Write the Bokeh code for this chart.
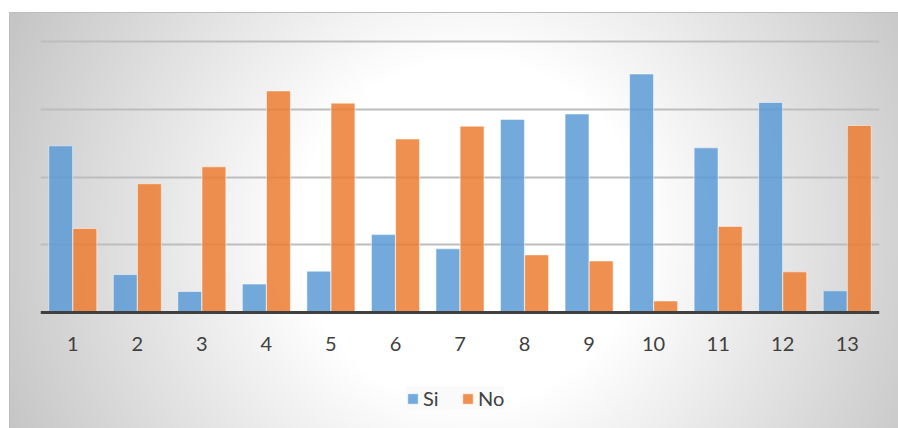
from bokeh.plotting import figure
from bokeh.models import FactorRange, Range1d, FixedTicker, Legend, LegendItem, ColumnDataSource
from bokeh.transform import dodge
from bokeh.embed import file_html
from bokeh.resources import INLINE

categories = [str(i) for i in range(1, 14)]
si = [24.6, 5.6, 3.1, 4.2, 6.1, 11.5, 9.4, 28.5, 29.3, 35.2, 24.3, 31.0, 3.2]
no = [12.4, 19.0, 21.5, 32.7, 30.9, 25.6, 27.5, 8.5, 7.6, 1.7, 12.7, 6.0, 27.6]
grid_ticks = [10, 20, 30, 40]
series_names = ["Si", "No"]

src = ColumnDataSource(dict(cat=categories, si=si, no=no))

# layout (pixels): frame spans y 39..428, value 0 sits at y=312, 10 units = 67.75 px
PX_PER_UNIT = 6.775
FRAME_TOP, ZERO_Y, FRAME_BOTTOM = 39, 312, 428
y_end = (ZERO_Y - FRAME_TOP) / PX_PER_UNIT
y_start = -(FRAME_BOTTOM - ZERO_Y) / PX_PER_UNIT

p = figure(width=898, height=428, output_backend="svg", toolbar_location=None,
           x_range=FactorRange(*categories, range_padding=0),
           y_range=Range1d(y_start, y_end),
           min_border_left=40, min_border_right=19, min_border_top=FRAME_TOP, min_border_bottom=0)
p.styles = {
    "background": ("linear-gradient(#ffffff, #ffffff) 0 0 / 100% 12px no-repeat, "
                   "linear-gradient(#ffffff, #ffffff) 0 0 / 9px 100% no-repeat, "
                   "linear-gradient(#bdbdbd, #bdbdbd) 9px 12px / 100% 1px no-repeat, "
                   "linear-gradient(#bdbdbd, #bdbdbd) 9px 12px / 1px 100% no-repeat, "
                   "radial-gradient(circle at 470px 232px, #ffffff 0px, #ffffff 170px, #c2c2c2 520px)"),
}
p.border_fill_color = None
p.background_fill_color = None
p.outline_line_color = None

p.yaxis.visible = False
p.ygrid.ticker = FixedTicker(ticks=grid_ticks)
p.ygrid.grid_line_color = "#bdbdbd"
p.ygrid.grid_line_width = 2
p.xgrid.grid_line_color = None

p.xaxis.fixed_location = 0
p.xaxis.axis_line_color = "#404040"
p.xaxis.axis_line_width = 3
p.xaxis.major_tick_line_color = None
p.xaxis.minor_tick_line_color = None
p.xaxis.major_label_text_font = "Lato"
p.xaxis.major_label_text_font_size = "20px"
p.xaxis.major_label_text_color = "#404040"
p.xaxis.major_label_standoff = 18

r_si = p.vbar(x=dodge("cat", -0.187, range=p.x_range), top="si", bottom=0, width=0.37, source=src,
              fill_color="#5B9BD5", fill_alpha=0.85, line_color="white", line_alpha=0.5, line_width=1)
r_no = p.vbar(x=dodge("cat", 0.187, range=p.x_range), top="no", bottom=0, width=0.37, source=src,
              fill_color="#ED7D31", fill_alpha=0.85, line_color="white", line_alpha=0.5, line_width=1)

legend = Legend(items=[LegendItem(label=series_names[0], renderers=[r_si]),
                       LegendItem(label=series_names[1], renderers=[r_no])],
                orientation="horizontal", location=(366, 18))
legend.label_text_font = "Lato"
legend.label_text_font_size = "20px"
legend.label_text_color = "#404040"
legend.glyph_width = 13
legend.glyph_height = 13
legend.label_standoff = 4
legend.spacing = 18
legend.padding = 10
legend.margin = 0
legend.border_line_color = None
legend.background_fill_color = "#f9f9f9"
legend.background_fill_alpha = 0.8
p.add_layout(legend, "center")

open("out.html", "w").write(file_html(p, INLINE))
